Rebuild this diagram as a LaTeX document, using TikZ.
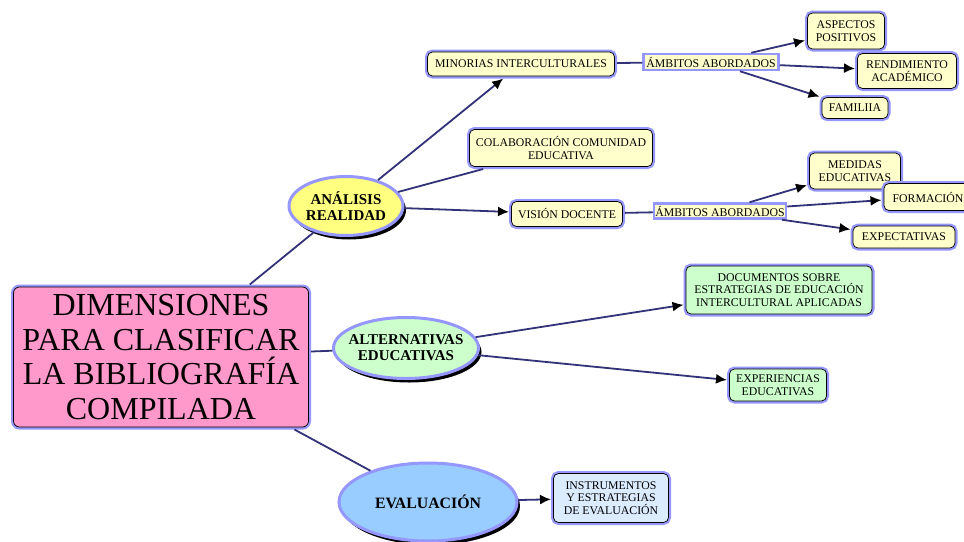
\documentclass[tikz,border=0pt]{standalone}
\usepackage{fontspec}
\setmainfont{Liberation Serif}
\usetikzlibrary{positioning,shapes.geometric,shadows,arrows.meta}
\definecolor{GlowBlue}{RGB}{150,150,255}
\definecolor{LinkNavy}{RGB}{50,50,120}
\definecolor{HubPink}{RGB}{255,153,204}
\definecolor{PaleYellow}{RGB}{255,255,204}
\definecolor{SunYellow}{RGB}{255,255,128}
\definecolor{MintGreen}{RGB}{204,255,204}
\definecolor{SkyBlue}{RGB}{153,204,255}
\definecolor{IceBlue}{RGB}{220,236,255}
\tikzset{
	leaf/.style={rounded corners=5pt,draw=black,line width=0.7pt,fill=PaleYellow,
		preaction={draw=GlowBlue,line width=5pt},align=center,inner sep=2pt,outer sep=2.5pt,
		font=\fontsize{11.8}{12.8}\selectfont},
	hub/.style={leaf,fill=HubPink,rounded corners=6pt,font=\fontsize{32}{34.5}\selectfont},
	idea/.style={ellipse,draw=GlowBlue,line width=3pt,align=center,inner sep=0pt,
		font=\bfseries\fontsize{15}{16}\selectfont,
		general shadow={fill=black,shadow xshift=3pt,shadow yshift=-4pt}},
	tag/.style={draw=GlowBlue,line width=2.5pt,fill=PaleYellow,inner sep=1pt,
		font=\fontsize{11.8}{12}\selectfont},
	link/.style={draw=LinkNavy,line width=1.8pt},
	arr/.style={link,-{Latex[length=11pt,width=10pt,color=black]}},
}
\begin{document}
\begin{tikzpicture}[x=1pt,y=-1pt]
	\clip (0,0) rectangle (964,541);
	% centre and first ring
	\node[hub,minimum width=295pt,minimum height=140pt] (dims) at (161,357)
		{DIMENSIONES\\PARA CLASIFICAR\\LA BIBLIOGRAFÍA\\COMPILADA};
	\node[idea,fill=SunYellow,minimum width=114pt,minimum height=59pt] (analisis) at (346,206) {ANÁLISIS\\REALIDAD};
	\node[idea,fill=MintGreen,inner xsep=-8pt,minimum width=145pt,minimum height=61pt] (altern) at (406,348) {ALTERNATIVAS\\EDUCATIVAS};
	\node[idea,fill=SkyBlue,minimum width=178pt,minimum height=78pt,font=\bfseries\fontsize{15.8}{16}\selectfont] (evalua) at (428,502) {EVALUACIÓN};
	% analisis realidad
	\node[leaf,minimum width=187pt,minimum height=24pt] (minorias) at (521,64) {MINORIAS INTERCULTURALES};
	\node[tag,minimum width=135pt,minimum height=16pt] (ambA) at (711,62) {ÁMBITOS ABORDADOS};
	\node[leaf,minimum width=77pt,minimum height=36pt] (aspectos) at (846,31) {ASPECTOS\\POSITIVOS};
	\node[leaf,minimum width=99pt,minimum height=35pt] (rendim) at (907,71) {RENDIMIENTO\\ACADÉMICO};
	\node[leaf,minimum width=66pt,minimum height=21pt] (familia) at (855,108) {FAMILIIA};
	\node[leaf,minimum width=183pt,minimum height=37pt] (colab) at (561,148) {COLABORACIÓN COMUNIDAD\\EDUCATIVA};
	\node[leaf,minimum width=111pt,minimum height=25pt] (vision) at (567,214) {VISIÓN DOCENTE};
	\node[tag,minimum width=132pt,minimum height=15pt] (ambB) at (720,211) {ÁMBITOS ABORDADOS};
	\node[leaf,minimum width=91pt,minimum height=36pt] (medidas) at (855,171) {MEDIDAS\\EDUCATIVAS};
	\node[leaf,minimum width=88pt,minimum height=27pt] (formacion) at (928,197) {FORMACIÓN};
	\node[leaf,minimum width=102pt,minimum height=22pt] (expect) at (904,237) {EXPECTATIVAS};
	% alternativas educativas
	\node[leaf,fill=MintGreen,minimum width=186pt,minimum height=48pt] (docs) at (779,290)
		{DOCUMENTOS SOBRE\\ESTRATEGIAS DE EDUCACIÓN\\INTERCULTURAL APLICADAS};
	\node[leaf,fill=MintGreen,minimum width=97pt,minimum height=32pt] (experien) at (778,385) {EXPERIENCIAS\\EDUCATIVAS};
	% evaluacion
	\node[leaf,fill=IceBlue,minimum width=115pt,minimum height=49pt] (instrum) at (611,498)
		{INSTRUMENTOS\\Y ESTRATEGIAS\\DE EVALUACIÓN};

	\draw[link] (dims) -- (analisis);
	\draw[link] (dims) -- (altern);
	\draw[link] (dims) -- (evalua);
	\draw[arr] (analisis) -- (minorias);
	\draw[link] (analisis) -- (colab);
	\draw[arr] (analisis) -- (vision);
	\draw[link] (minorias) -- (ambA);
	\draw[arr] (ambA) -- (aspectos);
	\draw[arr] (ambA) -- (rendim);
	\draw[arr] (ambA) -- (familia);
	\draw[link] (vision) -- (ambB);
	\draw[arr] (ambB) -- (medidas);
	\draw[arr] (ambB) -- (formacion);
	\draw[arr] (ambB) -- (expect);
	\draw[arr] (altern) -- (docs);
	\draw[arr] (altern) -- (experien);
	\draw[arr] (evalua) -- (instrum);
\end{tikzpicture}
\end{document}
